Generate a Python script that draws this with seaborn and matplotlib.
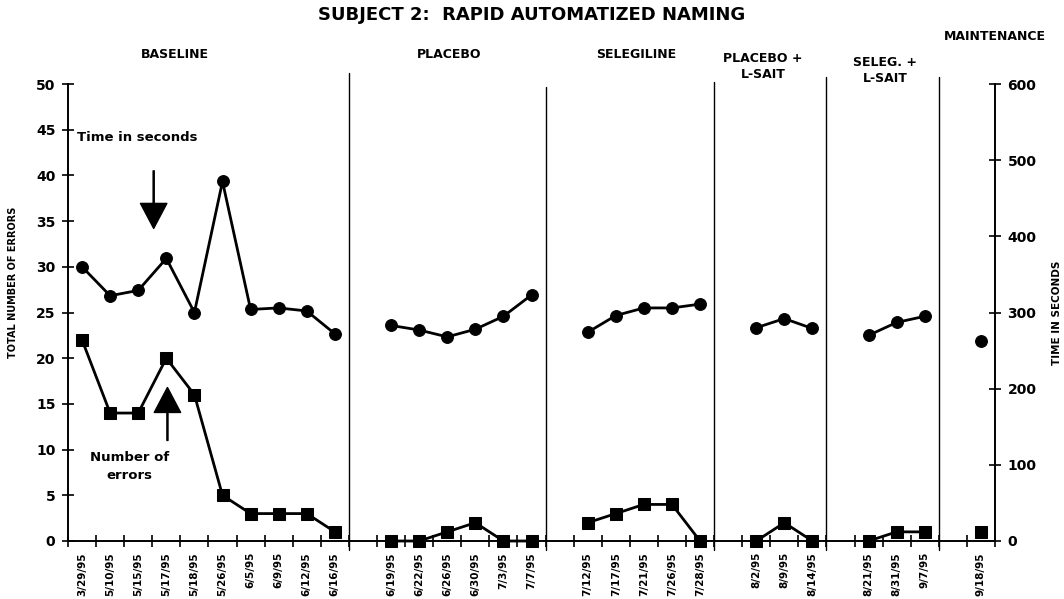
import numpy as np
import pandas as pd
import matplotlib.pyplot as plt
import seaborn as sns

# Phases of the study, in order
phases = ['BASELINE', 'PLACEBO', 'SELEGILINE', 'PLACEBO +\nL-SAIT', 'SELEG. +\nL-SAIT', 'MAINTENANCE']

# Session dates per phase
baseline_dates = ['3/29/95', '5/10/95', '5/15/95', '5/17/95', '5/18/95', '5/26/95', '6/5/95', '6/9/95', '6/12/95', '6/16/95']
placebo_dates = ['6/19/95', '6/22/95', '6/26/95', '6/30/95', '7/3/95', '7/7/95']
selegiline_dates = ['7/12/95', '7/17/95', '7/21/95', '7/26/95', '7/28/95']
placebo_sait_dates = ['8/2/95', '8/9/95', '8/14/95']
seleg_sait_dates = ['8/21/95', '8/31/95', '9/7/95']
maintenance_dates = ['9/18/95']

# Total number of errors (left axis)
baseline_errors = [22, 14, 14, 20, 16, 5, 3, 3, 3, 1]
placebo_errors = [0, 0, 1, 2, 0, 0]
selegiline_errors = [2, 3, 4, 4, 0]
placebo_sait_errors = [0, 2, 0]
seleg_sait_errors = [0, 1, 1]
maintenance_errors = [1]

# Time in seconds (right axis)
baseline_seconds = [360, 322, 329, 371, 300, 472, 304, 306, 302, 272]
placebo_seconds = [283, 277, 268, 278, 295, 323]
selegiline_seconds = [274, 296, 306, 306, 311]
placebo_sait_seconds = [280, 292, 279]
seleg_sait_seconds = [270, 287, 295]
maintenance_seconds = [262]

all_dates = [baseline_dates, placebo_dates, selegiline_dates, placebo_sait_dates, seleg_sait_dates, maintenance_dates]
all_errors = [baseline_errors, placebo_errors, selegiline_errors, placebo_sait_errors, seleg_sait_errors, maintenance_errors]
all_seconds = [baseline_seconds, placebo_seconds, selegiline_seconds, placebo_sait_seconds, seleg_sait_seconds, maintenance_seconds]

# Build a long table, leaving one empty category slot between phases
rows = []
boundaries = []
pos = 0
for phase, ds, es, ss in zip(phases, all_dates, all_errors, all_seconds):
    for d, e, s in zip(ds, es, ss):
        rows.append({'phase': phase, 'date': d, 'pos': pos, 'errors': e, 'seconds': s})
        pos += 1
    boundaries.append(pos - 0.5)
    pos += 1
df = pd.DataFrame(rows)
n_slots = pos - 1

sns.set_style('ticks')
plt.rcParams['font.family'] = ['DejaVu Sans']
plt.rcParams['font.weight'] = 'bold'
plt.rcParams['axes.labelweight'] = 'bold'
for key in ['text.color', 'axes.labelcolor', 'xtick.color', 'ytick.color', 'axes.edgecolor']:
    plt.rcParams[key] = 'black'

W, H = 1064, 599
fig = plt.figure(figsize=(W / 100, H / 100), dpi=100)
ax = fig.add_axes([68 / W, 1 - 541 / H, 927 / W, 457 / H])

sns.lineplot(data=df, x='pos', y='errors', units='phase', estimator=None, color='black',
             marker='s', markersize=8.5, markeredgecolor='black', linewidth=2,
             clip_on=False, ax=ax, legend=False)
ax2 = ax.twinx()
sns.lineplot(data=df, x='pos', y='seconds', units='phase', estimator=None, color='black',
             marker='o', markersize=8.5, markeredgecolor='black', linewidth=2,
             clip_on=False, ax=ax2, legend=False)

ax.set_xlim(-0.5, n_slots - 0.5)
ax.set_ylim(0, 50)
ax2.set_ylim(0, 600)

for a in (ax, ax2):
    a.spines['top'].set_visible(False)
    for s in a.spines.values():
        s.set_linewidth(1.4)
ax.spines['right'].set_visible(False)
ax2.spines['left'].set_visible(False)
ax2.spines['bottom'].set_visible(False)

# x axis: labels at session centres, tick marks at every category boundary
ax.set_xticks(df['pos'])
ax.set_xticklabels(df['date'], rotation=90, fontsize=7.5)
ax.set_xticks(np.arange(-0.5, n_slots, 1), minor=True)
ax.tick_params(axis='x', which='major', length=0, pad=8)
ax.tick_params(axis='x', which='minor', direction='inout', length=8, width=1.2)

ax.set_yticks(range(0, 51, 5))
ax.tick_params(axis='y', direction='inout', length=8, width=1.2, labelsize=10, pad=5)
ax2.set_yticks(range(0, 601, 100))
ax2.tick_params(axis='y', direction='inout', length=8, width=1.2, labelsize=10, pad=5)

ax.set_xlabel('')
ax.set_ylabel('TOTAL NUMBER OF ERRORS', fontsize=7, fontweight='bold')
ax.yaxis.set_label_coords(-0.054, 0.565)
ax2.set_ylabel('TIME IN SECONDS', fontsize=7.5, fontweight='bold', rotation=90)
ax2.yaxis.set_label_coords(1.061, 0.5)

# phase separators
sep_tops = [1.024, 0.994, 1.004, 1.016, 1.016]
for b, top in zip(boundaries[:-1], sep_tops):
    ax.axvline(b, ymin=-0.02, ymax=top, color='black', linewidth=1.0, clip_on=False)

# annotations
ax.text(-0.18, 44.1, 'Time in seconds', fontsize=9.5, ha='left', va='center')
ax.annotate('', xy=(2.55, 34.2), xytext=(2.55, 40.5),
            arrowprops=dict(facecolor='black', edgecolor='black', width=0.8, headwidth=19, headlength=18, shrink=0))
ax.text(1.68, 8.2, 'Number of\nerrors', fontsize=9.5, ha='center', va='center', linespacing=1.5)
ax.annotate('', xy=(3.04, 16.8), xytext=(3.04, 11.0),
            arrowprops=dict(facecolor='black', edgecolor='black', width=0.8, headwidth=19, headlength=18, shrink=0))

# titles
fig.text(532 / W, 1 - 15 / H, 'SUBJECT 2:  RAPID AUTOMATIZED NAMING', fontsize=13, ha='center', va='center')
label_xy = [(175, 55), (449, 55), (636, 55), (763, 66), (885, 70), (995, 37)]
for p, (x, y) in zip(phases, label_xy):
    fig.text(x / W, 1 - y / H, p, fontsize=9, ha='center', va='center', linespacing=1.3)

fig.savefig('out.png', dpi=100)
